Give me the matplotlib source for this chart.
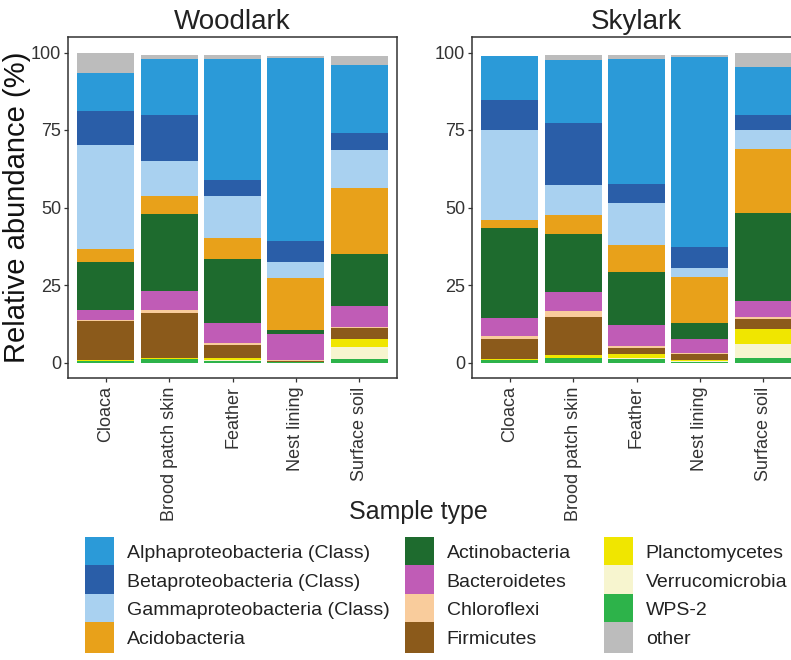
import numpy as np
import matplotlib
matplotlib.use('Agg')
import matplotlib.pyplot as plt
from matplotlib.patches import Patch

plt.rcParams['font.family'] = ['Liberation Sans', 'DejaVu Sans']

# sample types (x axis)
samples = ['Cloaca', 'Brood patch skin', 'Feather', 'Nest lining', 'Surface soil']

# taxa in legend order
taxa = ['Alphaproteobacteria (Class)', 'Betaproteobacteria (Class)',
        'Gammaproteobacteria (Class)', 'Acidobacteria', 'Actinobacteria',
        'Bacteroidetes', 'Chloroflexi', 'Firmicutes', 'Planctomycetes',
        'Verrucomicrobia', 'WPS-2', 'other']

colors = ['#2b9ad8', '#2a5ea8', '#a9d1f0', '#e8a11a', '#1e6b2e', '#c05cb6',
          '#f9cc9c', '#8b5a1b', '#f0e600', '#f7f5cf', '#2db34a', '#bcbcbc']

# relative abundance (%), rows = taxa, columns = sample types
woodlark = [
    [12.5, 18.1, 39.0, 59.2, 21.9],
    [10.8, 14.6, 5.1, 6.6, 5.5],
    [33.7, 11.4, 13.5, 5.1, 12.2],
    [4.0, 5.8, 6.7, 16.8, 21.5],
    [15.7, 24.8, 20.7, 1.5, 16.7],
    [3.0, 6.3, 6.6, 8.4, 6.7],
    [0.5, 0.8, 0.5, 0.1, 0.5],
    [12.6, 14.5, 4.4, 0.3, 3.5],
    [0.1, 0.3, 0.6, 0.1, 2.6],
    [0.1, 0.2, 0.3, 0.1, 3.7],
    [0.5, 1.0, 0.4, 0.1, 1.2],
    [6.5, 1.4, 1.4, 0.5, 2.8],
]

skylark = [
    [14.3, 20.6, 40.3, 61.4, 15.3],
    [9.7, 20.0, 6.2, 6.7, 5.1],
    [28.8, 9.4, 13.5, 2.9, 5.9],
    [2.6, 6.1, 8.6, 14.7, 20.7],
    [29.3, 18.9, 17.2, 5.1, 28.6],
    [5.8, 6.2, 6.8, 4.7, 5.1],
    [0.7, 1.9, 0.5, 0.3, 0.7],
    [6.7, 12.1, 2.1, 2.0, 3.2],
    [0.2, 0.9, 1.4, 0.3, 4.8],
    [0.1, 0.2, 0.3, 0.2, 4.3],
    [0.7, 1.4, 1.0, 0.2, 1.6],
    [0.1, 1.6, 1.4, 0.8, 4.5],
]

# stacking order from the bottom up: WPS-2 ... Alphaproteobacteria, then "other" on top
stack_order = [10, 9, 8, 7, 6, 5, 4, 3, 2, 1, 0, 11]

W, H = 791, 660
fig = plt.figure(figsize=(W / 100, H / 100), dpi=100)

ink = '#333333'


def draw_panel(ax, data, title):
    x = np.arange(1, len(samples) + 1)
    bottom = np.zeros(len(samples))
    for i in stack_order:
        vals = np.array(data[i])
        ax.bar(x, vals, width=0.9, bottom=bottom, color=colors[i], linewidth=0)
        bottom += vals
    ax.set_xlim(0.4, 5.6)
    ax.set_ylim(-5, 105)
    ax.set_yticks([0, 25, 50, 75, 100])
    ax.set_xticks(x)
    ax.set_xticklabels(samples, rotation=90, ha='center', va='top')
    ax.tick_params(axis='both', labelsize=13, colors=ink, length=3, width=0.9, pad=2)
    ax.tick_params(axis='x', pad=3)
    for s in ax.spines.values():
        s.set_color(ink)
        s.set_linewidth(1.1)
    ax.set_title(title, fontsize=20, color='#222222', pad=6)


ax1 = fig.add_axes([68 / W, 1 - 378 / H, 329 / W, 341 / H])
ax2 = fig.add_axes([472 / W, 1 - 378 / H, 329 / W, 341 / H])
draw_panel(ax1, woodlark, 'Woodlark')
draw_panel(ax2, skylark, 'Skylark')

fig.text(17 / W, 1 - 207 / H, 'Relative abundance (%)', rotation=90,
         ha='center', va='center', fontsize=21, color='#111111')
fig.text(418 / W, 1 - 512 / H, 'Sample type', ha='center', va='center',
         fontsize=18, color='#222222')

# legend: three columns of four keys
handles = [Patch(facecolor=c, edgecolor='none') for c in colors]
col_x = [85, 405, 604]
for k in range(3):
    leg = fig.legend(handles[4 * k:4 * k + 4], taxa[4 * k:4 * k + 4],
                     loc='upper left', bbox_to_anchor=(col_x[k] / W, 1 - 537 / H),
                     frameon=False, fontsize=14, borderpad=0, borderaxespad=0,
                     handlelength=1.5, handleheight=2.0, labelspacing=-0.08,
                     handletextpad=0.65)
    for t in leg.get_texts():
        t.set_color('#222222')

fig.savefig('out.png', dpi=100)
